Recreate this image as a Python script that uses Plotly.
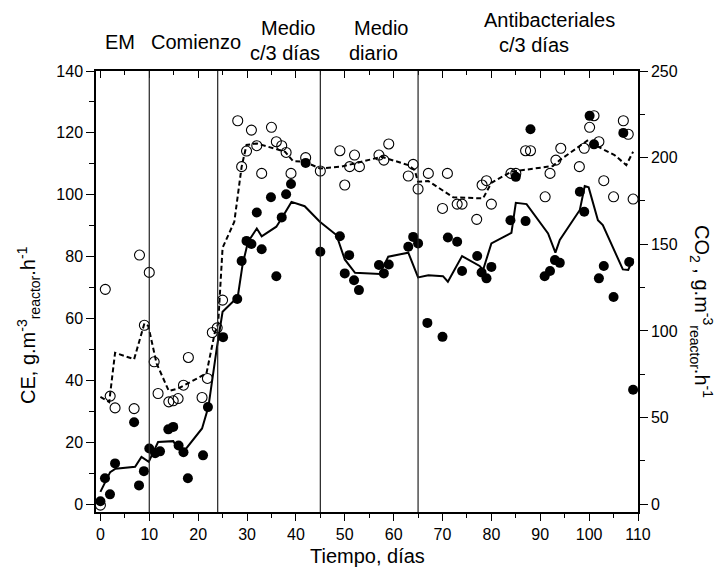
import plotly.graph_objects as go

# --- CE (left axis): measured points ---
ce_day = [0, 0.94, 1.96, 3, 6.9, 7.9, 8.9, 10, 11.2, 12.2, 13.9, 14.9, 16, 17, 17.9,
          21, 22, 25.1, 28, 28.9, 29.9, 30.9, 32, 33, 34.9, 36, 37.1, 38, 39, 42,
          45, 49, 50, 50.9, 51.9, 52.9, 57, 58, 59, 63, 64, 65, 66.9, 70, 71.1,
          73, 74, 77.1, 78, 79, 80, 83.9, 85, 87, 88, 90.9, 92, 93, 94, 98.1, 99,
          100.1, 101, 102, 103, 105, 107, 108.2, 109]
ce_val = [1, 8.4, 3.2, 13.2, 26.5, 6.1, 10.7, 18, 16.5, 17.1, 24.2, 25, 19, 16.8, 8.4,
          15.8, 31.4, 54, 66.3, 78.6, 85.1, 84.1, 94.3, 82.4, 99.2, 73.7, 92.7, 100.2, 103.5, 110.3,
          81.6, 86.6, 74.6, 80.5, 72.4, 69.2, 77.3, 74.6, 77.5, 83.2, 86.4, 84.3, 58.6, 54.1, 86.2,
          84.8, 75.4, 80.2, 74.9, 73, 76.7, 91.8, 105.8, 91.5, 121.2, 73.7, 75.4, 78.9, 78, 101, 94.5,
          125.5, 116.3, 73, 77, 67, 120, 78.3, 37]

# --- CE trend (solid line) ---
ce_trend_day = [0, 2, 3.1, 7.1, 8.4, 9.9, 11.8, 14.9, 15.9, 17, 20.8, 22.1, 23.8, 25, 28.1,
                29.1, 30.2, 32, 33, 36, 37.1, 39.1, 41.8, 44.9, 48.3, 50, 52.1, 57.2, 58.9,
                63, 65, 67.1, 70.1, 71.1, 74, 77.6, 78.3, 80, 84.1, 85, 87.2, 91.6, 93.1, 94,
                98.1, 99.1, 99.9, 101.8, 102.8, 106.9, 108, 109]
ce_trend_val = [4.0, 10.4, 11.5, 12.1, 15.3, 13.7, 20.1, 20.4, 18, 16.9, 24.5, 31.5, 50.3, 62.2, 67,
                77.5, 84.8, 89.1, 86.6, 89.7, 92.4, 97.7, 96.3, 91.3, 87, 79.1, 74.8, 74.4, 80,
                81.3, 73.3, 74, 73.7, 71.9, 80.2, 77, 75.7, 84.3, 87.7, 97.4, 97, 87.5, 81.3, 85.4,
                95.1, 102.8, 102.4, 91.8, 90.2, 75.9, 75.7, 79.4]

# --- CO2 (right axis): measured points ---
co2_day = [0, 1, 2, 3, 6.9, 8, 9, 10, 11, 11.8, 14, 14.9, 15.9, 17, 18, 20.8, 21.9, 22.9, 23.9, 25,
           28.1, 28.9, 29.9, 30.9, 32, 33, 35, 36, 37.1, 38, 39, 42, 45, 49, 50, 51, 52, 53,
           57, 58, 59, 63, 64, 65, 67.1, 70, 71, 73, 74, 77, 78.1, 79, 80, 84, 85, 87, 88,
           91, 92, 93.2, 94.2, 98, 99, 100.1, 101, 102, 103, 105, 107, 108, 109]
co2_val = [-0.5, 124, 62.4, 55.6, 55.2, 143.8, 103.3, 133.8, 82.2, 63.9, 59.1, 59.7, 61, 68.7, 84.7,
           61.6, 72.6, 99.1, 101.8, 117.8,
           221.3, 194.8, 203.8, 215.9, 206.9, 190.9, 217.5, 209.2, 206.9, 203, 190.9, 200, 192.3,
           204, 184.2, 194.8, 201.5, 194.8, 201.5, 198.6, 207.9, 189.4, 196.1, 181.9, 190.9,
           170.7, 190.9, 173.2, 173.2, 164.4, 184.2, 186.7, 173.2, 190.9, 190.9, 204, 204,
           177.4, 190.9, 198.6, 205.4, 194.8, 205.4, 217.5, 224.2, 209.2, 186.7, 177.4, 221.3,
           213.5, 176.1]

# --- CO2 trend (dashed line) ---
co2_trend_day = [0, 1.8, 3, 6.9, 9, 9.8, 11.5, 14, 15.9, 21.7, 23.4, 24.1, 25, 27.4, 28.9,
                 29.9, 32, 37.8, 39.4, 41.8, 44.9, 49.3, 53.4, 57.5, 63, 64.3, 65, 67.1, 72.2,
                 78.3, 80, 84.1, 92.6, 94, 99.8, 101.1, 105.2, 107.6, 109]
co2_trend_val = [62, 59, 87.4, 83.7, 104.3, 102.9, 81.2, 65.4, 66.8, 75.5, 98.9, 104.3, 148, 163, 194.8,
                 207.3, 208.2, 203.4, 198, 197.6, 193.8, 194.8, 197.6, 200.5, 195.7, 192.8, 186.1,
                 186.5, 177.1, 176.5, 185.5, 191.9, 195.2, 198.6, 210.2, 207.3, 201.5, 195.7, 203.4]

# Phase boundaries (days) and phase captions
phase_bounds = [10, 24, 45, 65]
phase_text = ["EM", "Comienzo", "Medio", "c/3 días", "Medio", "diario",
              "Antibacteriales", "c/3 días"]
phase_px = [(120, 42), (196, 42), (288, 28), (285, 53), (381, 28), (373, 53),
            (549, 20), (534, 45)]

FONT = "Liberation Sans, Arial, sans-serif"
L, R, T, B = 96, 82, 71, 64
W, H = 720, 576
PW, PH = W - L - R, H - T - B

X_RANGE = [-0.9, 110]
Y_RANGE = [-2.5, 140]
Y2_RANGE = [Y_RANGE[0] * 250 / 140, 250]

fig = go.Figure()

fig.add_trace(go.Scatter(x=co2_trend_day, y=co2_trend_val, yaxis="y2", mode="lines",
                         line=dict(color="black", width=2, dash="5px,3px"),
                         showlegend=False, hoverinfo="skip"))
fig.add_trace(go.Scatter(x=ce_trend_day, y=ce_trend_val, mode="lines",
                         line=dict(color="black", width=2),
                         showlegend=False, hoverinfo="skip"))
fig.add_trace(go.Scatter(x=co2_day, y=co2_val, yaxis="y2", mode="markers",
                         marker=dict(symbol="circle-open", size=10, color="black",
                                     line=dict(width=1.1, color="black")),
                         showlegend=False, cliponaxis=False))
fig.add_trace(go.Scatter(x=ce_day, y=ce_val, mode="markers",
                         marker=dict(symbol="circle", size=10, color="black"),
                         showlegend=False, cliponaxis=False))
# top axis carrier (no visible marks)
fig.add_trace(go.Scatter(x=[None], y=[None], xaxis="x2", showlegend=False, hoverinfo="skip"))

for d in phase_bounds:
    fig.add_shape(type="line", xref="x", yref="paper", x0=d, x1=d, y0=0, y1=1,
                  line=dict(color="#222222", width=1.2))

annotations = []
for txt, (px, py) in zip(phase_text, phase_px):
    annotations.append(dict(text=txt, xref="paper", yref="paper",
                            x=(px - L) / PW, y=(T + PH - py) / PH,
                            xanchor="center", yanchor="middle", showarrow=False,
                            font=dict(family=FONT, size=20, color="black")))

annotations.append(dict(text="CE, g.m<sup>-3</sup><sub>reactor</sub>.h<sup>-1</sup>",
                        xref="paper", yref="paper", x=(28 - L) / PW, y=(T + PH - 325) / PH,
                        xanchor="center", yanchor="middle", textangle=-90, showarrow=False,
                        font=dict(family=FONT, size=20, color="black")))
annotations.append(dict(text="CO<sub>2</sub> , g.m<sup>-3</sup><sub>reactor</sub>.h<sup>-1</sup>",
                        xref="paper", yref="paper", x=(702 - L) / PW, y=(T + PH - 311) / PH,
                        xanchor="center", yanchor="middle", textangle=90, showarrow=False,
                        font=dict(family=FONT, size=20, color="black")))
annotations.append(dict(text="Tiempo, días", xref="paper", yref="paper",
                        x=0.5, y=(T + PH - 556) / PH, xanchor="center", yanchor="middle",
                        showarrow=False, font=dict(family=FONT, size=20, color="black")))

tickfont = dict(family=FONT, size=16, color="black")

fig.update_layout(
    width=W, height=H,
    margin=dict(l=L, r=R, t=T, b=B),
    paper_bgcolor="white", plot_bgcolor="white",
    showlegend=False,
    annotations=annotations,
    xaxis=dict(range=X_RANGE, tick0=0, dtick=10, ticks="outside", ticklen=7, tickwidth=1.3,
               tickcolor="black", minor=dict(ticks="outside", dtick=5, ticklen=4, tickwidth=1.2,
                                             tickcolor="black", showgrid=False),
               showline=True, linecolor="black", linewidth=1.5, mirror=True,
               showgrid=False, zeroline=False, tickfont=tickfont),
    xaxis2=dict(range=X_RANGE, overlaying="x", side="top", anchor="y", tick0=0, dtick=10,
                ticks="inside", ticklen=7, tickwidth=1.3, tickcolor="black",
                minor=dict(ticks="inside", dtick=5, ticklen=4, tickwidth=1.2, tickcolor="black",
                           showgrid=False),
                showticklabels=False, showline=False, showgrid=False, zeroline=False),
    yaxis=dict(range=Y_RANGE, tick0=0, dtick=20, ticks="outside", ticklen=8, tickwidth=1.3,
               tickcolor="black", minor=dict(ticks="outside", dtick=10, ticklen=5, tickwidth=1.2,
                                             tickcolor="black", showgrid=False),
               showline=True, linecolor="black", linewidth=1.5,
               showgrid=False, zeroline=False, tickfont=tickfont),
    yaxis2=dict(range=Y2_RANGE, overlaying="y", side="right", tick0=0, dtick=50,
                ticks="outside", ticklen=8, tickwidth=1.3, tickcolor="black",
                minor=dict(ticks="outside", dtick=25, ticklen=5, tickwidth=1.2,
                           tickcolor="black", showgrid=False),
                showline=True, linecolor="black", linewidth=1.5,
                showgrid=False, zeroline=False, tickfont=tickfont),
)

fig.write_html("out.html")
